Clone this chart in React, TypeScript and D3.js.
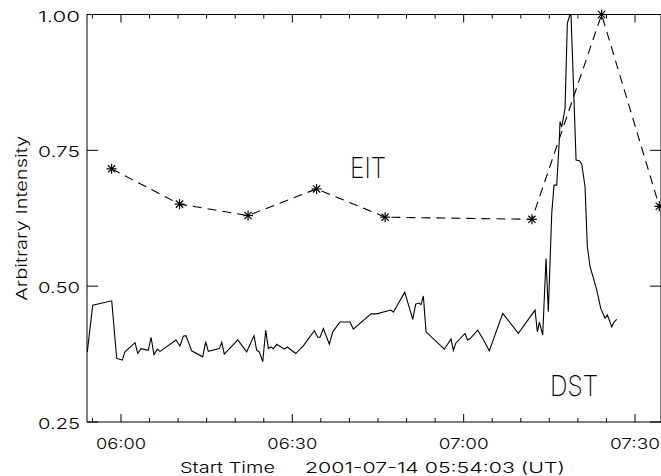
import * as d3 from "d3";

// time axis runs from the start time of the observation
const startTime = new Date(Date.UTC(2001, 6, 14, 5, 54, 3));
const endTime = new Date(Date.UTC(2001, 6, 14, 7, 34, 33));

const yTicks = [0.25, 0.5, 0.75, 1.0];
const yTickLabels = ["0.25", "0.50", "0.75", "1.00"];

// EIT: minutes after start time, normalised intensity
const eitMinutes = [4.3, 16.2, 28.2, 40.2, 52.2, 77.9, 90.1, 100.2];
const eitValues = [0.716, 0.651, 0.63, 0.679, 0.627, 0.623, 1.0, 0.647];

// DST: minutes after start time, normalised intensity
const dstMinutes = [
  0.05, 1.0, 4.33, 5.2, 6.18, 6.65, 8.41, 8.88, 9.46, 10.73, 11.21, 11.73, 12.31, 12.78,
  15.58, 16.28, 16.86, 17.33, 18.33, 20.26, 20.78, 21.24, 23.17, 23.59, 24.04, 26.39,
  27.96, 29.24, 29.71, 30.17, 30.77, 31.29, 31.75, 32.17, 32.62, 33.22, 34.55, 35.07,
  36.54, 37.87, 39.8, 40.4, 40.8, 41.38, 42.43, 43.02, 44.3, 46.05, 46.63, 49.73, 50.73,
  53.18, 53.63, 55.63, 57.03, 57.55, 58.13, 58.48, 58.89, 59.36, 62.56, 63.74, 64.14,
  64.56, 66.19, 66.63, 67.06, 68.41, 69.39, 70.44, 72.79, 75.52, 78.45, 78.85, 79.2,
  79.79, 80.37, 80.77, 81.37, 81.77, 82.24, 82.7, 82.82, 83.12, 83.7, 84.1, 84.57, 84.75,
  85.63, 86.2, 86.62, 87.2, 87.6, 88.08, 89.25, 89.95, 90.7, 91.11, 91.88, 92.28, 92.75,
];
const dstValues = [
  0.379, 0.465, 0.473, 0.367, 0.364, 0.379, 0.396, 0.376, 0.385, 0.382, 0.406, 0.374, 0.384, 0.38,
  0.401, 0.39, 0.408, 0.409, 0.381, 0.37, 0.398, 0.38, 0.385, 0.397, 0.375, 0.401,
  0.379, 0.409, 0.382, 0.379, 0.361, 0.419, 0.385, 0.388, 0.385, 0.393, 0.384, 0.388,
  0.376, 0.39, 0.418, 0.406, 0.406, 0.422, 0.393, 0.416, 0.434, 0.434, 0.421, 0.449, 0.449,
  0.456, 0.452, 0.489, 0.439, 0.467, 0.469, 0.466, 0.482, 0.416, 0.384, 0.403, 0.382,
  0.395, 0.413, 0.401, 0.403, 0.419, 0.402, 0.381, 0.45, 0.413, 0.456, 0.416, 0.434,
  0.41, 0.551, 0.453, 0.634, 0.686, 0.686, 0.769, 0.803, 0.793, 0.827, 0.984, 1.0, 0.998,
  0.732, 0.731, 0.725, 0.683, 0.573, 0.536, 0.493, 0.459, 0.441, 0.447, 0.425, 0.434, 0.439,
];

const width = 661;
const height = 476;
const left = 87;
const right = 661;
const top = 14.5;
const bottom = 422;

// thin strokes, close to the vector font of the original
const font = "Inter, 'Open Sans', Roboto, sans-serif";
const weight = 300;

const toDate = (m: number) => new Date(startTime.getTime() + m * 60000);

function Asterisk({ x, y }: { x: number; y: number }) {
  const r = 5;
  const d = r * 0.72;
  return (
    <g stroke="#000" strokeWidth={1.2}>
      <line x1={x - r} y1={y} x2={x + r} y2={y} />
      <line x1={x} y1={y - r} x2={x} y2={y + r} />
      <line x1={x - d} y1={y - d} x2={x + d} y2={y + d} />
      <line x1={x - d} y1={y + d} x2={x + d} y2={y - d} />
    </g>
  );
}

export default function App() {
  const x = d3.scaleUtc().domain([startTime, endTime]).range([left, right]);
  const y = d3.scaleLinear().domain([0.25, 1.0]).range([bottom, top]);

  const minorTicks = x.ticks(d3.utcMinute.every(5)!);
  const majorTicks = x.ticks(d3.utcMinute.every(30)!);
  const fmt = d3.utcFormat("%H:%M");

  const dstLine = d3
    .line<number>()
    .x((m) => x(toDate(m)))
    .y((_, i) => y(dstValues[i]))(dstMinutes);

  const eitLine = d3
    .line<number>()
    .x((m) => x(toDate(m)))
    .y((_, i) => y(eitValues[i]))(eitMinutes);

  return (
    <svg
      width={width}
      height={height}
      style={{ position: "absolute", left: 0, top: 0, background: "#fff" }}
    >
      <rect x={0} y={0} width={width} height={height} fill="#fff" />

      {/* frame */}
      <rect
        x={left}
        y={top}
        width={right - left}
        height={bottom - top}
        fill="none"
        stroke="#000"
        strokeWidth={1}
      />

      {/* x ticks, bottom and top */}
      {minorTicks.map((t, i) => {
        const major = majorTicks.some((m) => +m === +t);
        const len = major ? 8 : 4;
        return (
          <g key={"xt" + i} stroke="#000" strokeWidth={1}>
            <line x1={x(t)} x2={x(t)} y1={bottom} y2={bottom - len} />
            <line x1={x(t)} x2={x(t)} y1={top} y2={top + len} />
          </g>
        );
      })}
      {majorTicks.map((t, i) => (
        <text
          key={"xl" + i}
          x={x(t)}
          y={449}
          textAnchor="middle"
          fontFamily={font}
          fontWeight={weight}
          fontSize={15}
          textLength={50}
          lengthAdjust="spacingAndGlyphs"
          fill="#000"
        >
          {fmt(t)}
        </text>
      ))}

      {/* y ticks, left and right */}
      {yTicks.map((v, i) => (
        <g key={"yt" + i}>
          <line x1={left} x2={left + 11} y1={y(v)} y2={y(v)} stroke="#000" />
          <line x1={right - 11} x2={right} y1={y(v)} y2={y(v)} stroke="#000" />
          <text
            x={80}
            y={y(v) + 7}
            textAnchor="end"
            fontFamily={font}
            fontWeight={weight}
            fontSize={15}
            textLength={42}
            lengthAdjust="spacingAndGlyphs"
            fill="#000"
          >
            {yTickLabels[i]}
          </text>
        </g>
      ))}

      {/* axis titles */}
      <text
        x={180}
        y={473}
        fontFamily={font}
        fontWeight={weight}
        fontSize={15}
        textLength={95}
        lengthAdjust="spacingAndGlyphs"
        fill="#000"
      >
        Start Time
      </text>
      <text
        x={305}
        y={473}
        fontFamily={font}
        fontWeight={weight}
        fontSize={15}
        textLength={260}
        lengthAdjust="spacingAndGlyphs"
        fill="#000"
      >
        2001-07-14 05:54:03 (UT)
      </text>
      <text
        transform={`translate(27,${(top + bottom) / 2}) rotate(-90)`}
        textAnchor="middle"
        fontFamily={font}
        fontWeight={weight}
        fontSize={15}
        textLength={165}
        lengthAdjust="spacingAndGlyphs"
        fill="#000"
      >
        Arbitrary Intensity
      </text>

      {/* data */}
      <path d={dstLine ?? ""} fill="none" stroke="#000" strokeWidth={1.1} />
      <path
        d={eitLine ?? ""}
        fill="none"
        stroke="#000"
        strokeWidth={1.1}
        strokeDasharray="9,6"
      />
      {eitMinutes.map((m, i) => (
        <Asterisk key={"e" + i} x={x(toDate(m))} y={y(eitValues[i])} />
      ))}

      <text
        x={350}
        y={178}
        fontFamily={font}
        fontWeight={200}
        fontSize={28}
        textLength={36}
        lengthAdjust="spacingAndGlyphs"
        fill="#000"
      >
        EIT
      </text>
      <text
        x={550}
        y={396}
        fontFamily={font}
        fontWeight={200}
        fontSize={28}
        textLength={48}
        lengthAdjust="spacingAndGlyphs"
        fill="#000"
      >
        DST
      </text>
    </svg>
  );
}
